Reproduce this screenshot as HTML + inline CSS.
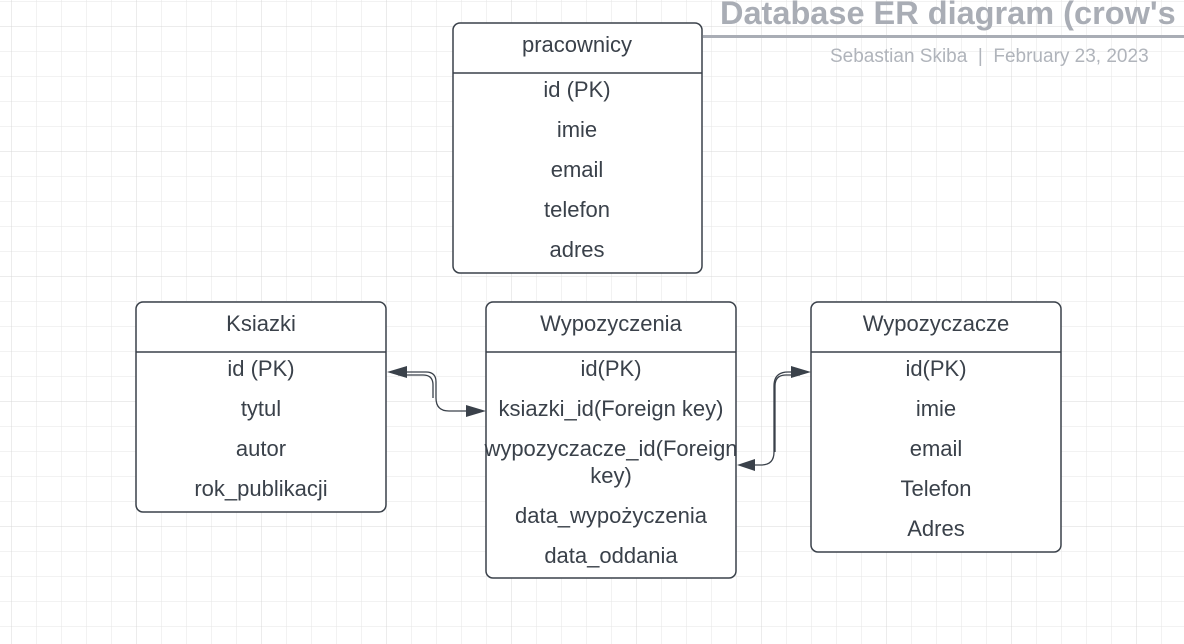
<!DOCTYPE html>
<html><head><meta charset="utf-8"><style>
html,body{margin:0;padding:0;background:#fff;}
svg{display:block;}
text{font-family:"Liberation Sans",sans-serif;}
</style></head><body>
<svg width="1184" height="644" viewBox="0 0 1184 644" xmlns="http://www.w3.org/2000/svg">
<defs>
<pattern id="g" x="11" y="1" width="25" height="25" patternUnits="userSpaceOnUse">
<path d="M0 0V25M0 0H25" stroke="#e6e6e6" stroke-width="1" fill="none"/>
</pattern>
<pattern id="G" x="11" y="26" width="125" height="125" patternUnits="userSpaceOnUse">
<path d="M0 0V125M0 0H125" stroke="#d8d8d8" stroke-width="1" fill="none"/>
</pattern>
</defs>
<rect width="1184" height="644" fill="url(#g)"/>
<rect width="1184" height="644" fill="url(#G)"/>

<text x="720" y="24" font-size="32.5" font-weight="bold" fill="#a9adb5">Database ER diagram (crow's</text>
<rect x="703" y="35" width="481" height="3" fill="#a9adb5"/>
<text x="830" y="62" font-size="19" fill="#b0b4bb">Sebastian Skiba&#160;&#160;|&#160;&#160;February 23, 2023</text>

<g fill="#fff" stroke="#3a414a" stroke-width="1.5">
<rect x="453" y="23" width="249" height="250" rx="7"/>
<line x1="453" y1="73" x2="702" y2="73"/>
<rect x="136" y="302" width="250" height="210" rx="7"/>
<line x1="136" y1="352" x2="386" y2="352"/>
<rect x="486" y="302" width="250" height="276" rx="7"/>
<line x1="486" y1="352" x2="736" y2="352"/>
<rect x="811" y="302" width="250" height="250" rx="7"/>
<line x1="811" y1="352" x2="1061" y2="352"/>
</g>

<g font-size="22" fill="#3a414a" text-anchor="middle">
<text x="577" y="52">pracownicy</text>
<text x="577" y="97">id (PK)</text>
<text x="577" y="137">imie</text>
<text x="577" y="177">email</text>
<text x="577" y="217">telefon</text>
<text x="577" y="257">adres</text>

<text x="261" y="331">Ksiazki</text>
<text x="261" y="376">id (PK)</text>
<text x="261" y="416">tytul</text>
<text x="261" y="456">autor</text>
<text x="261" y="496">rok_publikacji</text>

<text x="611" y="331">Wypozyczenia</text>
<text x="611" y="376">id(PK)</text>
<text x="611" y="416">ksiazki_id(Foreign key)</text>
<text x="611" y="456">wypozyczacze_id(Foreign</text>
<text x="611" y="483">key)</text>
<text x="611" y="523">data_wypożyczenia</text>
<text x="611" y="563">data_oddania</text>

<text x="936" y="331">Wypozyczacze</text>
<text x="936" y="376">id(PK)</text>
<text x="936" y="416">imie</text>
<text x="936" y="456">email</text>
<text x="936" y="496">Telefon</text>
<text x="936" y="536">Adres</text>
</g>

<g fill="none" stroke="#3a414a" stroke-width="1.3">
<path d="M398 372H426q10 0 10 10V398q0 13 13 13H476"/>
<path d="M398 375H423q10 0 10 10V398"/>
<path d="M800 372H788q-14 0-14 14V452q0 13-13 13H748"/>
<path d="M800 375H786q-11 0-11 11V452"/>
</g>
<g fill="#3a414a">
<polygon points="387,372 407,366 407,378"/>
<polygon points="486,411 466,405 466,417"/>
<polygon points="811,372 791,366 791,378"/>
<polygon points="737,465 755,459 755,471"/>
</g>
</svg>
</body></html>
